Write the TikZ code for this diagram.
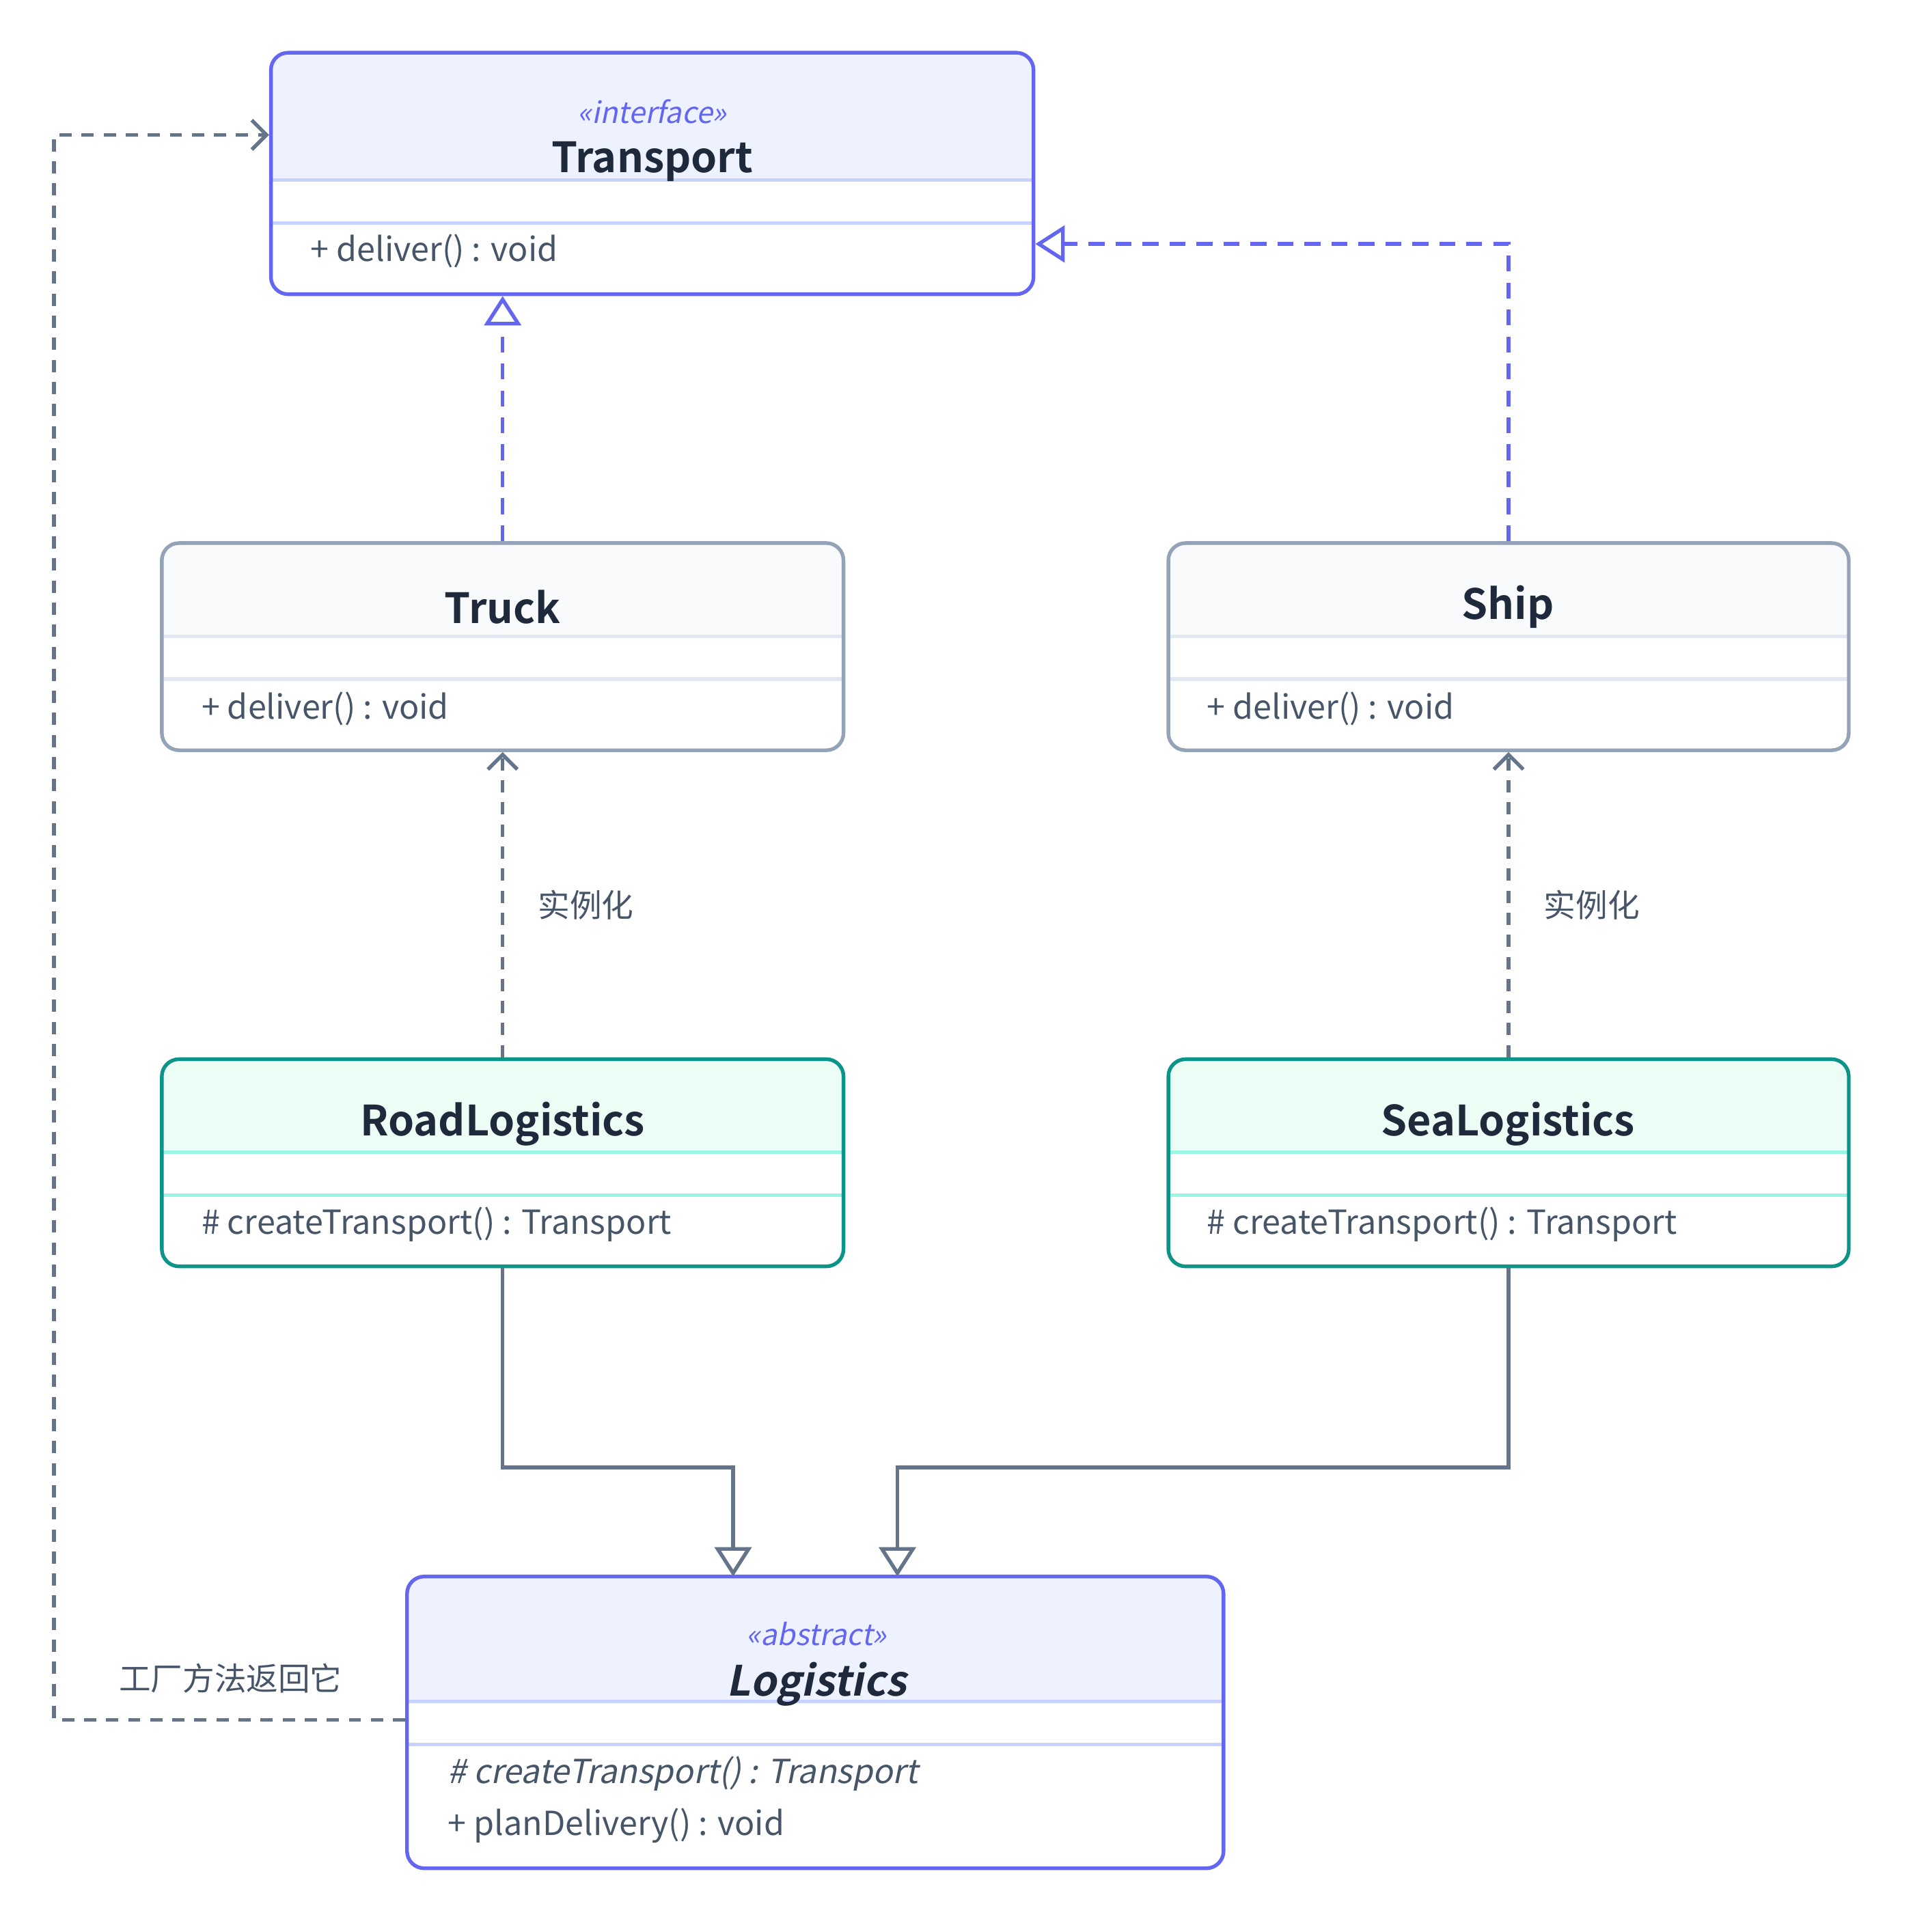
\documentclass[tikz,border=0pt]{standalone}
\usepackage{fontspec}
\setmainfont{Noto Sans CJK SC}[BoldFont=Noto Sans CJK SC Bold, ItalicFont=Noto Sans CJK SC, ItalicFeatures={FakeSlant=0.2}, BoldItalicFont=Noto Sans CJK SC Bold, BoldItalicFeatures={FakeSlant=0.2}]
\usetikzlibrary{arrows.meta,fit}
\definecolor{ifaceB}{HTML}{6366F1}\definecolor{ifaceF}{HTML}{EEF2FF}\definecolor{ifaceS}{HTML}{C7D2FE}
\definecolor{concB}{HTML}{94A3B8}\definecolor{concF}{HTML}{F8FAFC}\definecolor{concS}{HTML}{E2E8F0}
\definecolor{factB}{HTML}{0D9488}\definecolor{factF}{HTML}{ECFDF5}\definecolor{factS}{HTML}{99F6E4}
\definecolor{txt}{HTML}{1E293B}\definecolor{body}{HTML}{475569}\definecolor{edge}{HTML}{64748B}
\newcommand\ubox[8]{%
\begin{scope}
\clip[rounded corners=14pt] (#2,#3) rectangle (#4,#5);
\fill[white] (#2,#3) rectangle (#4,#5);
\fill[#8F] (#2,#3) rectangle (#4,#6);
\end{scope}
\draw[#8S, line width=3pt] (#2,#6) -- (#4,#6) (#2,#7) -- (#4,#7);
\node[fit={(#2,#3)(#4,#5)}, inner sep=0pt, draw=#8B, rounded corners=14pt, line width=3pt] (#1) {};}
\tikzset{
 ttl/.style={font=\fontsize{34}{40}\selectfont\bfseries, text=txt},
 mth/.style={font=\fontsize{27}{32}\selectfont, text=body, anchor=west},
 ster/.style={font=\fontsize{24}{28}\selectfont\itshape, text=ifaceB},
 lbl/.style={font=\fontsize{26}{30}\selectfont, text=body},
 real/.style={draw=ifaceB, line width=3pt, dash pattern=on 13pt off 9pt, -{Triangle[open, length=24pt, width=30pt, line width=3pt]}},
 dep/.style={draw=edge, line width=3pt, dash pattern=on 10pt off 8pt, -{Straight Barb[length=12pt, width=24pt, line width=3pt]}},
 inh/.style={draw=edge, line width=3pt, -{Triangle[open, length=24pt, width=30pt, line width=3pt]}}
}
\begin{document}
\begin{tikzpicture}[x=1pt,y=-1pt]
\useasboundingbox (0,0) rectangle (1560,1576);
\ubox{transport}{221}{43}{843}{240}{147}{182}{iface}
\node[ster] at (532,91) {«interface»};
\node[ttl] at (532,132) {Transport};
\node[mth] at (250,205) {+ deliver() : void};
\ubox{truck}{132}{443}{688}{612}{519}{554}{conc}
\node[ttl] at (410,495) {Truck};
\node[mth] at (161,578) {+ deliver() : void};
\ubox{ship}{953}{443}{1508}{612}{519}{554}{conc}
\node[ttl] at (1230,495) {Ship};
\node[mth] at (981,578) {+ deliver() : void};
\ubox{road}{132}{864}{688}{1033}{940}{975}{fact}
\node[ttl] at (410,917) {RoadLogistics};
\node[mth] at (161,999) {\# createTransport() : Transport};
\ubox{sea}{953}{864}{1508}{1033}{940}{975}{fact}
\node[ttl] at (1230,917) {SeaLogistics};
\node[mth] at (981,999) {\# createTransport() : Transport};
\ubox{logi}{332}{1286}{998}{1524}{1388}{1423}{iface}
\node[ster] at (666,1333) {«abstract»};
\node[ttl, font=\fontsize{34}{40}\selectfont\bfseries\itshape] at (666,1374) {Logistics};
\node[mth, font=\fontsize{27}{32}\selectfont\itshape] at (362,1447) {\# createTransport() : Transport};
\node[mth] at (362,1489) {+ planDelivery() : void};
\draw[real] (truck.north) -- (transport.south -| truck.north);
\draw[real] (ship.north) |- (transport.east |- 0,199);
\draw[dep] (road.north) -- node[lbl, right=24pt] {实例化} (truck.south);
\draw[dep] (sea.north) -- node[lbl, right=24pt] {实例化} (ship.south);
\draw[inh] (road.south) |- (598,1197) -- (598,1286);
\draw[inh] (sea.south) |- (732,1197) -- (732,1286);
\draw[dep] (logi.west |- 0,1403) -| (44,110) -- (transport.west |- 0,110);
\node[lbl] at (188,1369) {工厂方法返回它};
\end{tikzpicture}
\end{document}
